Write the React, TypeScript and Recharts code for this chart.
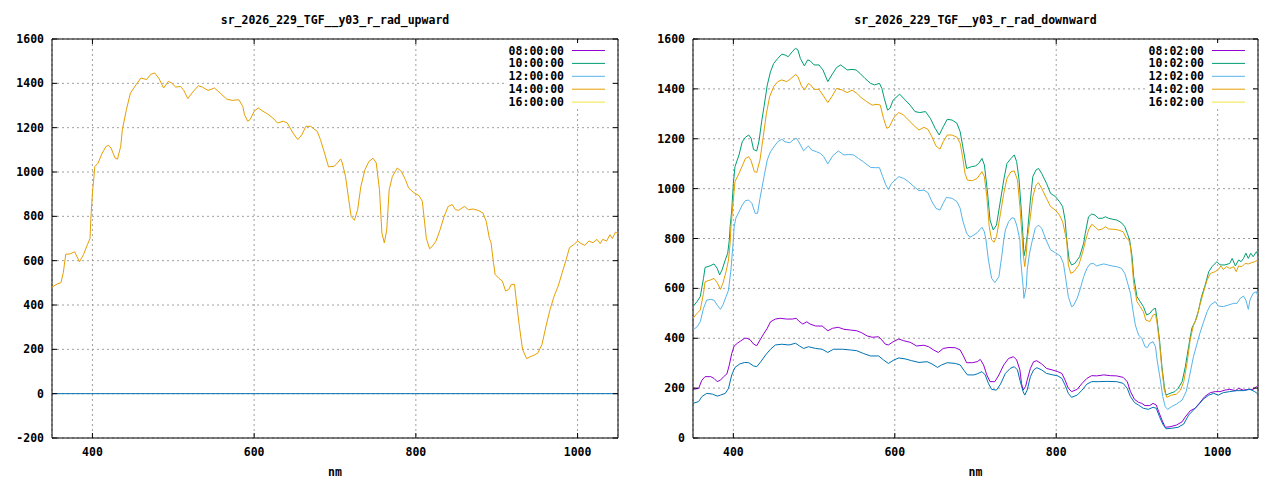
import React from 'react';
import { CartesianGrid, Legend, Line, LineChart, ReferenceArea, XAxis, YAxis } from 'recharts';

type Pt = [number, number];

const FONT = '"DejaVu Sans Mono", "Liberation Mono", monospace';
const FONT_SIZE = 11.5;

const seriesColors = ['#9400d3', '#009e73', '#56b4e9', '#e69f00', '#f0e442'];
const extraColor = '#0072b2';

const upwardLabels = ['08:00:00', '10:00:00', '12:00:00', '14:00:00', '16:00:00'];
const downwardLabels = ['08:02:00', '10:02:00', '12:02:00', '14:02:00', '16:02:00'];

const xTicks = [400, 600, 800, 1000];
const upwardYTicks = [-200, 0, 200, 400, 600, 800, 1000, 1200, 1400, 1600];
const downwardYTicks = [0, 200, 400, 600, 800, 1000, 1200, 1400, 1600];

// upward, 14:00:00 (the only one with values; the rest sit under the flat line)
const up1400: Pt[] = [
  [350,481],[357,496],[361,500],[364,546],[367,629],[372,630],[378,640],[384,595],[389,628],[394,674],
  [397,700],[398,785],[400,905],[403,1025],[407,1040],[412,1085],[417,1116],[420,1120],[423,1108],[428,1063],
  [431,1058],[435,1116],[437,1191],[442,1281],[447,1356],[454,1394],[460,1424],[467,1417],[472,1440],[477,1447],
  [482,1424],[488,1379],[494,1409],[498,1401],[503,1383],[509,1386],[513,1368],[518,1331],[523,1356],[531,1389],
  [536,1383],[543,1368],[551,1379],[558,1356],[566,1329],[573,1323],[581,1326],[586,1296],[588,1259],[592,1229],
  [595,1236],[600,1274],[605,1289],[611,1274],[616,1263],[623,1244],[629,1221],[636,1229],[641,1221],[648,1176],
  [654,1146],[659,1168],[664,1206],[670,1206],[678,1183],[682,1146],[687,1086],[692,1023],[699,1026],[703,1041],
  [707,1059],[709,1041],[713,980],[717,875],[720,800],[724,782],[728,830],[732,935],[737,1010],[742,1048],
  [747,1062],[751,1041],[755,920],[758,725],[761,680],[764,738],[767,920],[771,980],[777,1018],[782,1003],
  [787,966],[791,928],[797,908],[804,893],[808,868],[810,800],[813,700],[817,654],[820,663],[825,689],
  [830,740],[835,800],[840,845],[845,853],[849,830],[853,827],[860,845],[865,830],[871,833],[877,827],
  [883,815],[887,778],[891,700],[893,681],[896,591],[898,538],[903,519],[907,508],[911,463],[915,470],
  [918,493],[922,493],[925,395],[928,305],[932,199],[937,158],[941,166],[946,173],[951,184],[956,222],
  [961,305],[966,380],[971,440],[976,485],[981,546],[986,606],[990,659],[996,674],[1000,689],[1004,678],
  [1009,669],[1014,689],[1019,681],[1024,696],[1028,677],[1031,696],[1036,689],[1040,717],[1043,700],[1047,729],
  [1050,720],
];
const upFlat: Pt[] = [[350,0],[1050,0]];

const down0802: Pt[] = [
  [350,195],[357,199],[361,232],[365,246],[372,246],[376,239],[380,226],[384,232],[388,246],[392,257],
  [395,293],[398,339],[401,369],[405,380],[409,389],[414,400],[417,400],[421,393],[425,377],[429,370],
  [433,393],[438,420],[442,440],[446,466],[452,477],[458,480],[466,477],[473,477],[478,480],[481,469],
  [486,457],[491,466],[495,457],[502,449],[510,449],[517,430],[523,440],[530,444],[537,436],[545,433],
  [553,430],[559,422],[566,409],[572,404],[580,406],[584,393],[588,377],[592,373],[598,386],[605,397],
  [611,390],[619,384],[627,369],[636,372],[642,366],[648,353],[654,343],[660,359],[667,363],[675,362],
  [681,353],[685,329],[689,302],[696,302],[702,306],[706,315],[710,293],[714,253],[718,226],[724,226],
  [729,253],[735,293],[741,319],[747,326],[751,313],[755,273],[757,219],[759,192],[762,206],[764,232],
  [768,279],[772,306],[776,310],[782,297],[788,279],[795,273],[802,266],[807,259],[811,232],[815,199],
  [819,186],[826,195],[832,219],[838,239],[844,250],[850,249],[859,253],[867,250],[875,249],[883,243],
  [888,226],[892,186],[897,155],[902,143],[906,139],[910,130],[916,130],[920,139],[924,132],[927,105],
  [931,72],[935,43],[941,45],[949,52],[956,65],[960,85],[966,109],[972,119],[978,142],[984,166],
  [991,182],[997,186],[1003,186],[1009,192],[1015,195],[1022,190],[1026,199],[1032,192],[1038,195],[1044,195],
  [1048,206],[1050,200],
];

const down1002: Pt[] = [
  [350,527],[355,547],[359,567],[363,640],[365,684],[371,690],[376,698],[380,680],[383,654],[386,674],
  [390,714],[393,741],[395,794],[396,847],[398,914],[400,1021],[402,1088],[407,1135],[411,1188],[415,1206],
  [419,1215],[422,1202],[425,1157],[429,1151],[432,1195],[435,1268],[438,1329],[442,1415],[446,1469],[450,1502],
  [455,1522],[460,1539],[464,1536],[468,1529],[473,1549],[477,1563],[480,1556],[483,1522],[488,1492],[492,1516],
  [495,1513],[500,1496],[506,1496],[511,1476],[517,1429],[522,1456],[528,1486],[533,1496],[541,1476],[547,1478],
  [552,1476],[557,1462],[563,1442],[570,1422],[575,1416],[581,1422],[584,1402],[587,1362],[591,1315],[594,1322],
  [598,1355],[606,1379],[613,1355],[619,1335],[625,1309],[631,1305],[638,1309],[644,1282],[650,1242],[655,1215],
  [660,1248],[665,1278],[671,1275],[677,1262],[681,1228],[685,1155],[689,1081],[695,1088],[700,1091],[704,1101],
  [708,1121],[711,1095],[715,981],[718,874],[722,834],[726,854],[731,954],[735,1035],[739,1101],[744,1121],
  [748,1135],[751,1108],[754,1035],[757,901],[759,800],[760,730],[762,760],[764,810],[768,954],[771,1048],
  [775,1075],[778,1081],[782,1061],[788,1021],[793,981],[799,968],[804,948],[808,928],[811,874],[813,794],
  [816,714],[819,694],[823,700],[829,727],[834,781],[836,821],[840,887],[844,898],[848,894],[852,881],
  [857,881],[861,887],[865,881],[870,877],[875,874],[881,863],[885,847],[888,821],[891,794],[894,727],
  [896,647],[900,567],[904,547],[908,527],[912,493],[916,500],[920,516],[923,520],[925,473],[928,393],
  [931,286],[934,206],[936,172],[941,179],[947,186],[951,199],[956,226],[960,286],[964,366],[968,440],
  [972,466],[976,507],[980,567],[984,607],[989,667],[993,687],[999,707],[1003,694],[1009,694],[1015,700],
  [1018,720],[1022,690],[1026,714],[1029,707],[1032,720],[1035,741],[1038,720],[1041,741],[1044,727],[1048,747],
  [1050,734],
];

const down1202: Pt[] = [
  [350,433],[355,446],[359,466],[363,520],[367,553],[372,556],[376,553],[380,533],[384,516],[387,533],
  [391,567],[394,593],[397,674],[400,794],[401,847],[403,881],[407,907],[411,934],[415,952],[419,954],
  [423,941],[427,901],[430,901],[433,961],[438,1048],[442,1115],[446,1148],[451,1171],[455,1188],[460,1198],
  [464,1188],[470,1184],[474,1195],[478,1202],[481,1188],[487,1152],[493,1171],[497,1155],[503,1148],[508,1141],
  [512,1128],[517,1099],[523,1131],[530,1151],[537,1135],[543,1137],[549,1135],[555,1121],[561,1108],[570,1085],
  [576,1084],[581,1084],[585,1048],[589,1014],[592,997],[596,1021],[605,1048],[611,1041],[617,1028],[623,1010],
  [630,992],[636,994],[641,984],[646,948],[651,921],[656,914],[660,941],[664,965],[671,961],[677,948],
  [681,921],[684,874],[689,821],[693,805],[698,814],[702,823],[708,845],[711,827],[713,794],[716,714],
  [720,640],[724,623],[729,647],[733,741],[735,794],[737,834],[741,867],[745,883],[748,881],[751,854],
  [755,794],[756,714],[759,607],[760,560],[763,607],[764,674],[767,741],[770,787],[774,841],[778,854],
  [782,841],[788,790],[793,754],[799,743],[805,730],[809,700],[812,634],[815,567],[819,527],[821,529],
  [826,560],[830,600],[834,647],[838,680],[842,698],[846,700],[850,690],[854,694],[859,698],[864,694],
  [869,690],[875,687],[881,680],[885,660],[888,627],[892,580],[895,513],[898,453],[902,413],[906,400],
  [910,366],[913,363],[916,380],[920,386],[923,366],[925,313],[929,233],[932,166],[935,126],[938,115],
  [943,126],[949,136],[956,152],[961,186],[965,246],[970,326],[974,373],[978,420],[982,460],[987,507],
  [991,533],[997,547],[1001,529],[1007,527],[1013,533],[1020,540],[1024,540],[1028,560],[1032,569],[1035,553],
  [1038,516],[1040,553],[1044,580],[1048,587],[1050,567],
];

const down1402: Pt[] = [
  [350,480],[355,500],[359,513],[363,580],[365,627],[372,634],[376,640],[380,623],[384,596],[387,620],
  [391,667],[394,714],[396,781],[397,847],[400,954],[402,1028],[407,1061],[411,1091],[415,1121],[419,1128],
  [422,1112],[426,1068],[429,1065],[433,1115],[437,1208],[441,1302],[445,1369],[450,1409],[455,1429],[460,1436],
  [466,1429],[470,1438],[474,1449],[477,1458],[480,1449],[484,1415],[488,1395],[493,1422],[496,1415],[500,1398],
  [506,1398],[511,1375],[517,1345],[522,1369],[528,1402],[535,1395],[541,1385],[547,1395],[553,1382],[558,1366],
  [565,1349],[572,1335],[578,1338],[582,1335],[586,1282],[590,1242],[593,1246],[599,1286],[605,1305],[611,1295],
  [617,1275],[623,1255],[630,1235],[636,1246],[641,1238],[646,1208],[651,1171],[656,1158],[660,1188],[665,1215],
  [671,1215],[677,1206],[681,1182],[684,1128],[687,1061],[690,1034],[696,1032],[702,1041],[708,1068],[711,1048],
  [714,968],[717,847],[720,794],[723,785],[726,807],[731,901],[735,981],[739,1041],[744,1068],[748,1071],
  [752,1035],[755,928],[758,794],[759,741],[761,687],[763,741],[764,794],[768,887],[771,968],[775,1014],
  [778,1024],[782,1001],[788,961],[793,928],[799,914],[804,894],[808,867],[811,821],[813,794],[815,694],
  [818,660],[822,667],[828,694],[833,747],[836,787],[840,834],[844,857],[848,847],[852,834],[857,838],
  [861,847],[865,838],[871,837],[877,834],[883,827],[887,801],[890,794],[892,767],[894,700],[896,620],
  [900,547],[904,527],[908,507],[911,473],[916,467],[920,493],[923,497],[925,460],[928,380],[931,273],
  [934,192],[937,163],[943,172],[949,176],[954,192],[958,226],[962,299],[966,393],[970,453],[974,480],
  [978,533],[982,580],[987,634],[991,660],[997,667],[1001,676],[1004,690],[1007,676],[1011,687],[1015,680],
  [1020,687],[1023,667],[1026,690],[1030,687],[1034,700],[1038,698],[1042,703],[1046,707],[1050,714],
];

// unlabelled sixth curve, drawn last
const downExtra: Pt[] = [
  [350,139],[357,146],[361,166],[367,179],[374,176],[380,168],[384,172],[390,179],[394,199],[398,253],
  [402,283],[408,297],[414,303],[419,302],[425,289],[429,286],[434,306],[440,333],[446,356],[452,373],
  [460,376],[469,373],[477,380],[482,369],[487,359],[493,366],[502,359],[510,356],[517,343],[524,356],
  [535,356],[545,353],[553,350],[561,339],[570,329],[580,329],[586,313],[592,299],[599,313],[605,321],
  [613,317],[621,310],[630,303],[640,306],[646,297],[653,283],[658,293],[665,302],[675,299],[681,293],
  [686,270],[690,253],[698,253],[702,257],[708,266],[712,253],[716,219],[720,195],[726,192],[731,216],
  [737,259],[743,279],[748,286],[752,273],[755,232],[759,186],[761,172],[764,192],[768,246],[772,273],
  [776,282],[782,273],[788,259],[796,253],[802,249],[807,239],[811,212],[815,179],[819,163],[826,172],
  [832,192],[838,216],[844,226],[852,226],[863,227],[875,226],[883,219],[888,199],[892,166],[897,142],
  [902,132],[908,119],[914,115],[920,123],[924,119],[928,85],[932,56],[936,37],[943,39],[951,43],
  [958,56],[964,92],[970,112],[976,132],[982,155],[989,172],[995,179],[1001,172],[1007,182],[1015,186],
  [1024,190],[1032,190],[1040,195],[1046,186],[1050,176],
];

const PLOT_TOP = 39;
const PLOT_H = 399;
const TICK = 5;

const toRows = (pts: Pt[]) => pts.map(([nm, v]) => ({ nm, v }));

const txt = { fontFamily: FONT, fontSize: FONT_SIZE, fontWeight: 'bold' as const, fill: '#000' };

interface PanelProps {
  title: string;
  labels: string[];
  series: (Pt[] | null)[];
  extra: Pt[];
  yDomain: [number, number];
  yTicks: number[];
  axisW: number;
}

const Panel = ({ title, labels, series, extra, yDomain, yTicks, axisW }: PanelProps) => {
  const plotW = 640 - axisW - 22;

  const xTick = (p: any) => (
    <g>
      <line x1={p.x} x2={p.x} y1={p.y} y2={p.y - TICK} stroke="#000" />
      <line x1={p.x} x2={p.x} y1={p.y - PLOT_H} y2={p.y - PLOT_H + TICK} stroke="#000" />
      <text x={p.x} y={p.y + 18} textAnchor="middle" {...txt}>{p.payload.value}</text>
    </g>
  );
  const yTick = (p: any) => (
    <g>
      <line x1={p.x} x2={p.x + TICK} y1={p.y} y2={p.y} stroke="#000" />
      <line x1={p.x + plotW - TICK} x2={p.x + plotW} y1={p.y} y2={p.y} stroke="#000" />
      <text x={p.x - 8} y={p.y + 4} textAnchor="end" {...txt}>{p.payload.value}</text>
    </g>
  );

  // gnuplot-style key: label right-aligned, sample line after it, opaque box
  const legend = (props: any) => {
    const rows = (props.payload || []).filter((e: any) => e.type !== 'none' && labels.includes(e.value));
    return (
      <div style={{ background: '#fff', width: 106, height: 64 }}>
        <svg width={106} height={64} style={{ overflow: 'visible', display: 'block' }}>
          {rows.map((e: any, i: number) => (
            <g key={i}>
              <text x={58} y={11.5 + i * 12.9} textAnchor="end" {...txt}>{e.value}</text>
              <line x1={66} x2={99} y1={7.5 + i * 12.9} y2={7.5 + i * 12.9} stroke={e.color} />
            </g>
          ))}
        </svg>
      </div>
    );
  };

  return (
    <div style={{ position: 'relative', width: 640, height: 480 }}>
      <div style={{ position: 'absolute', left: axisW, top: 13, width: plotW, textAlign: 'center',
        fontFamily: FONT, fontSize: FONT_SIZE, fontWeight: 'bold', lineHeight: '14px' }}>{title}</div>
      <LineChart width={640} height={480} margin={{ top: PLOT_TOP, right: 22, bottom: 0, left: 0 }}>
        <CartesianGrid stroke="#a0a0a0" strokeDasharray="2 3" />
        <XAxis dataKey="nm" type="number" domain={[350, 1050]} ticks={xTicks} allowDataOverflow
          height={42} axisLine={false} tickLine={false} tickSize={0} tickMargin={0} tick={xTick}
          label={{ value: 'nm', position: 'insideBottom', offset: 4, style: txt }} />
        <YAxis type="number" domain={yDomain} ticks={yTicks} allowDataOverflow width={axisW}
          axisLine={false} tickLine={false} tickSize={0} tickMargin={0} tick={yTick} />
        {labels.map((name, i) => (
          <Line key={name} name={name} data={series[i] ? toRows(series[i] as Pt[]) : []} dataKey="v"
            type="linear" stroke={seriesColors[i]} strokeWidth={1} dot={false} isAnimationActive={false} />
        ))}
        <Line name="extra" data={toRows(extra)} dataKey="v" type="linear" stroke={extraColor}
          strokeWidth={1} dot={false} legendType="none" isAnimationActive={false} />
        <ReferenceArea x1={350} x2={1050} y1={yDomain[0]} y2={yDomain[1]} fill="none" fillOpacity={0}
          stroke="#000" strokeWidth={1} />
        <Legend layout="vertical" align="center" verticalAlign="middle" content={legend}
          wrapperStyle={{ left: 506, top: 43, width: 106, height: 64 }} />
      </LineChart>
    </div>
  );
};

export default function App() {
  return (
    <div style={{ position: 'absolute', left: 0, top: 0, width: 1280, height: 480, background: '#fff', display: 'flex' }}>
      <Panel title="sr_2026_229_TGF__y03_r_rad_upward" labels={upwardLabels}
        series={[null, null, null, up1400, null]} extra={upFlat}
        yDomain={[-200, 1600]} yTicks={upwardYTicks} axisW={52} />
      <Panel title="sr_2026_229_TGF__y03_r_rad_downward" labels={downwardLabels}
        series={[down0802, down1002, down1202, down1402, null]} extra={downExtra}
        yDomain={[0, 1600]} yTicks={downwardYTicks} axisW={53} />
    </div>
  );
}
